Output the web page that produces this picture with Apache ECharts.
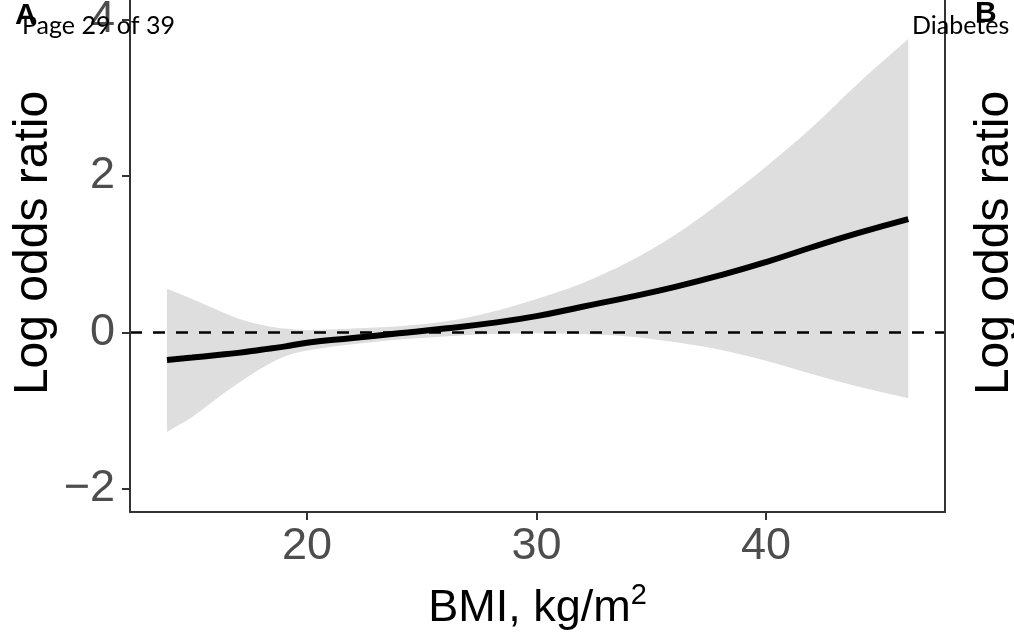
<!DOCTYPE html>
<html lang="en">
<head>
    <meta charset="UTF-8">
    <title>Log odds ratio by BMI</title>
    <style>
        html,body{
            margin:0;
            padding:0;
            background:#fff;
        }
        #chart{
            width:1014px;
            height:632px;
        }
    </style>
</head>
<body>
  <div id="chart"></div>
</body>
<script src="https://cdn.jsdelivr.net/npm/echarts@6/dist/echarts.min.js"></script>
<script>
    // values
    var bmi   = [13.9, 15, 16, 17, 18, 19, 20, 22, 24, 26, 28, 30, 32, 34, 36, 38, 40, 42, 44, 46.2];
    var fit   = [-0.35, -0.32, -0.29, -0.26, -0.22, -0.18, -0.13, -0.07, -0.01, 0.05, 0.12, 0.21, 0.33, 0.45, 0.58, 0.73, 0.9, 1.09, 1.27, 1.45];
    var upper = [0.56, 0.43, 0.3, 0.18, 0.1, 0.05, 0.03, 0.05, 0.08, 0.14, 0.26, 0.43, 0.63, 0.9, 1.24, 1.66, 2.12, 2.62, 3.18, 3.75];
    var lower = [-1.27, -1.08, -0.86, -0.65, -0.46, -0.31, -0.23, -0.15, -0.09, -0.05, -0.02, -0.01, -0.02, -0.05, -0.12, -0.22, -0.36, -0.53, -0.69, -0.84];
    var xTicks = [20, 30, 40];
    var yTicks = [-2, 0, 2, 4];

    var tickColor = '#4d4d4d',
        lineColor = '#333333',
        bandColor = '#dedede',
        fontMain = 'Liberation Sans, Arial, sans-serif',
        fontPage = 'Lato, sans-serif';

    var bandData = bmi.map(function (x, i) { return [x, lower[i], upper[i]]; });
    var fitData = bmi.map(function (x, i) { return [x, fit[i]]; });

    // confidence band as one smoothed polygon; end points doubled so the corners stay sharp
    function renderBand(params, api) {
        if (params.dataIndex !== 0) return;
        var n = bmi.length, pts = [], i;
        for (i = 0; i < n; i++) pts.push(api.coord([bmi[i], upper[i]]));
        pts.push(api.coord([bmi[n - 1], upper[n - 1]]));
        pts.push(api.coord([bmi[n - 1], lower[n - 1]]));
        for (i = n - 1; i >= 0; i--) pts.push(api.coord([bmi[i], lower[i]]));
        pts.push(api.coord([bmi[0], lower[0]]));
        pts.push(api.coord([bmi[0], upper[0]]));
        return {
            type: 'polygon',
            shape: { points: pts, smooth: 0.33 },
            style: { fill: bandColor }
        };
    }

    var option = {
        backgroundColor: '#fff',
        animation: false,
        grid: { left: 130, right: 69, top: 0, bottom: 120, outerBoundsMode: 'none' },
        xAxis: {
            type: 'value',
            z: 10,
            min: 12.29,
            max: 47.8,
            splitLine: { show: false },
            axisLine: { show: true, onZero: false, lineStyle: { color: lineColor, width: 2 } },
            axisTick: { show: true, length: 8, lineStyle: { color: lineColor, width: 2 }, customValues: xTicks },
            axisLabel: { color: tickColor, fontSize: 45, fontFamily: fontMain, margin: 12, customValues: xTicks },
            name: '{a|BMI, kg/m}{b|2}',
            nameLocation: 'middle',
            nameGap: 69,
            nameTextStyle: {
                rich: {
                    a: { fontSize: 45, color: '#000', fontFamily: fontMain, verticalAlign: 'bottom' },
                    b: { fontSize: 29, color: '#000', fontFamily: fontMain, verticalAlign: 'bottom', padding: [0, 0, 21, 0] }
                }
            }
        },
        yAxis: [{
            type: 'value',
            z: 10,
            min: -2.294,
            max: 4.25,
            splitLine: { show: false },
            axisLine: { show: true, lineStyle: { color: lineColor, width: 2 } },
            axisTick: { show: true, length: 8, lineStyle: { color: lineColor, width: 2 }, customValues: yTicks },
            axisLabel: {
                color: tickColor, fontSize: 45, fontFamily: fontMain, margin: 15, customValues: yTicks,
                formatter: function (v) { return v < 0 ? '\u2212' + (-v) : String(v); }
            }
        }, {
            type: 'value',
            z: 10,
            position: 'right',
            min: -2.294,
            max: 4.25,
            splitLine: { show: false },
            axisLine: { show: true, lineStyle: { color: lineColor, width: 2 } },
            axisTick: { show: false },
            axisLabel: { show: false }
        }],
        series: [
            {
                type: 'custom',
                name: 'ci',
                data: bandData,
                encode: { x: 0, y: [1, 2] },
                z: 1,
                renderItem: renderBand
            },
            {
                type: 'line',
                name: 'fit',
                data: fitData,
                smooth: true,
                symbol: 'none',
                z: 3,
                lineStyle: { color: '#000', width: 6 },
                markLine: {
                    silent: true,
                    symbol: 'none',
                    label: { show: false },
                    lineStyle: { color: '#000', width: 2.5, type: [12, 11] },
                    data: [{ yAxis: 0 }]
                }
            }
        ],
        graphic: [
            { type: 'text', x: 34, y: 243, rotation: Math.PI / 2, z: 10, style: { text: 'Log odds ratio', fontSize: 48, fontFamily: fontMain, fill: '#000', align: 'center', verticalAlign: 'middle' } },
            { type: 'text', x: 995, y: 243, rotation: Math.PI / 2, z: 10, style: { text: 'Log odds ratio', fontSize: 48, fontFamily: fontMain, fill: '#000', align: 'center', verticalAlign: 'middle' } },
            { type: 'text', left: 15, top: 1, z: 10, style: { text: 'A', fontSize: 30, fontWeight: 'bold', fontFamily: fontMain, fill: '#000' } },
            { type: 'text', left: 975, top: -1, z: 10, style: { text: 'B', fontSize: 30, fontWeight: 'bold', fontFamily: fontMain, fill: '#000' } },
            { type: 'text', left: 22, top: 13, z: 11, style: { text: 'Page 29 of 39', fontSize: 25, fontFamily: fontPage, fill: '#000' } },
            { type: 'text', left: 912, top: 13, z: 11, style: { text: 'Diabetes', fontSize: 25, fontFamily: fontPage, fill: '#000' } }
        ]
    };

    var chart = echarts.init(document.getElementById('chart'));
    chart.setOption(option, true);
</script>
</html>
